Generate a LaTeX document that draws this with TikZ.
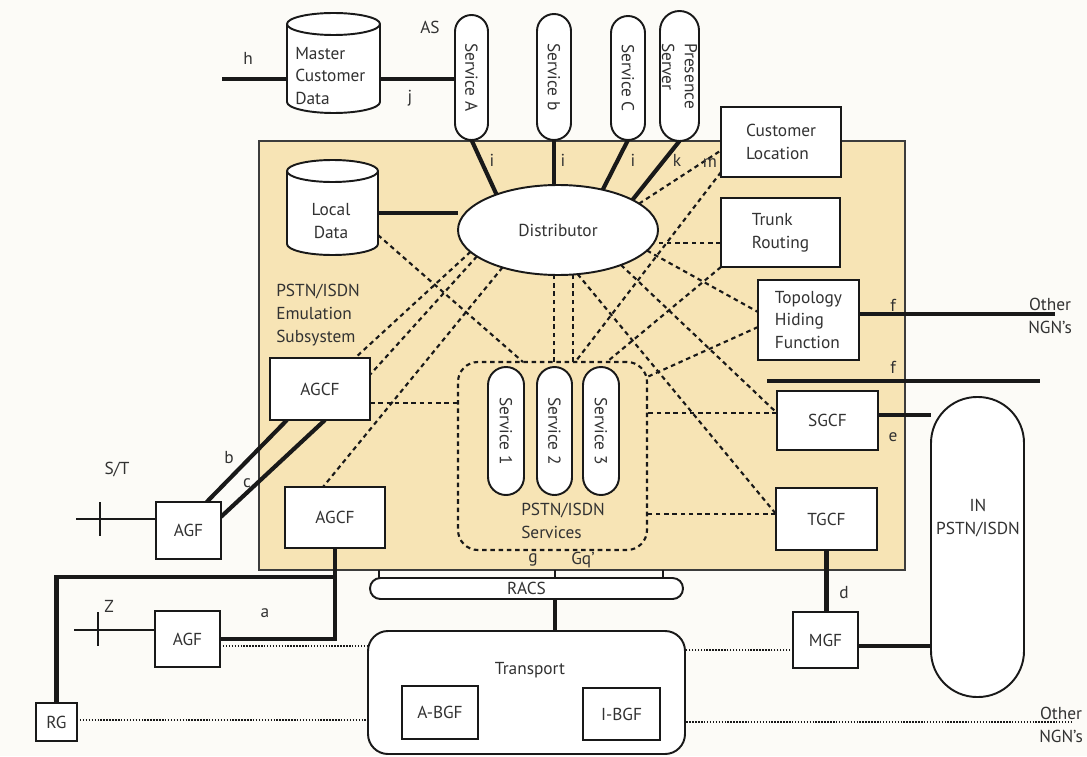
\documentclass[tikz,border=0pt]{standalone}
\usepackage{fontspec}
\setmainfont{PT Sans}
\usetikzlibrary{shapes.geometric,calc}
\definecolor{beige}{RGB}{247,228,181}
\definecolor{paper}{RGB}{252,251,247}
\definecolor{ink}{RGB}{25,25,25}
\definecolor{txt}{RGB}{50,50,50}
\pgfdeclarelayer{back}
\pgfdeclarelayer{lines}
\pgfsetlayers{back,lines,main}
\tikzset{
 box/.style={draw=ink, fill=white, line width=1.45pt, inner sep=0pt, outer sep=0pt, align=center, text=txt},
 thk/.style={draw=ink, line width=3.1pt},
 med/.style={draw=ink, line width=2.2pt},
 dsh/.style={draw=ink, line width=1.6pt, dash pattern=on 3.4pt off 2.8pt},
 dot/.style={draw=ink, line width=1.2pt, dash pattern=on 1.1pt off 1.1pt},
 lbl/.style={inner sep=0pt, text=txt, align=left},
 cylb/.style={draw=ink, fill=white, line width=1.45pt},
}
\newcommand\bx[7][]{\node[box,#1,minimum width={(#5-#3)*0.75pt},minimum height={(#6-#4)*0.75pt}] (#2) at ({(#3+#5)/2},{(#4+#6)/2}) {#7};}
\newcommand\vpill[7][]{\node[box,#1,rotate=-90,minimum width={(#6-#4)*0.75pt},minimum height={(#5-#3)*0.75pt},rounded corners={(#5-#3)*0.375pt}] (#2) at ({(#3+#5)/2},{(#4+#6)/2}) {#7};}
\newcommand\cyl[5]{%
 \node[inner sep=0pt,outer sep=0pt,minimum width={(#4-#2)*0.75pt},minimum height={(#5-#3)*0.75pt}] (#1) at ({(#2+#4)/2},{(#3+#5)/2}) {};
 \filldraw[cylb] (#2,{#3+11}) -- (#2,{#5-11}) arc[start angle=180,end angle=360,x radius={(#4-#2)*0.375pt},y radius=8.25pt] -- (#4,{#3+11}) arc[start angle=0,end angle=180,x radius={(#4-#2)*0.375pt},y radius=8.25pt] -- cycle;
 \draw[cylb,fill=none] (#2,{#3+11}) arc[start angle=180,end angle=360,x radius={(#4-#2)*0.375pt},y radius=8.25pt];
}
\begin{document}
\begin{tikzpicture}[x=0.75pt,y=-0.75pt,font=\fontsize{13}{17}\selectfont]
\useasboundingbox (0,0) rectangle (1087,756);
\begin{pgfonlayer}{back}
\fill[paper] (0,0) rectangle (1087,756);
\bx[fill=beige,draw=ink!85,line width=1.1pt]{pes}{259}{141}{905}{570}{}
\end{pgfonlayer}

% ---------- nodes ----------
\cyl{mcd}{287}{13}{380}{113}
\node[lbl,anchor=west] (mcdt) at (295,76) {Master\\Customer\\Data};
\cyl{ld}{287}{160}{378}{255}
\node[lbl,align=center] (ldt) at (331,221) {Local\\Data};
\vpill{sA}{455}{15}{488}{140}{Service A}
\vpill{sB}{537}{14}{571}{140}{Service b}
\vpill{sC}{611}{16}{645}{140}{Service C}
\vpill[align=left]{pres}{660}{11}{699}{141}{Presence\\Server}
\node[box,ellipse,minimum width=150pt,minimum height=67.5pt] (dist) at (558,230) {Distributor};
\bx[align=left]{cl}{721}{107}{841}{177}{Customer\\Location}
\bx[align=left]{tr}{721}{198}{840}{267}{Trunk\\Routing}
\bx[align=left]{thf}{758}{280}{859}{360}{Topology\\Hiding\\Function}
\bx{sgcf}{777}{391}{878}{450}{SGCF}
\bx{tgcf}{776}{488}{877}{550}{TGCF}
\bx{mgf}{793}{612}{858}{668}{MGF}
\bx[rounded corners=34.5pt]{inpill}{931}{397}{1024}{697}{}
\node[lbl,align=center] (int) at (978,518) {IN\\PSTN/ISDN};
\bx{agcf1}{270}{358}{370}{420}{AGCF}
\bx{agcf2}{285}{487}{385}{548}{AGCF}
\bx{agf1}{156}{502}{221}{559}{AGF}
\bx{agf2}{155}{611}{220}{667}{AGF}
\bx{rg}{36}{703}{77}{741}{RG}
\bx[fill=none,dsh,rounded corners=15pt]{svcbox}{458}{362}{647}{550}{}
\vpill{s1}{488}{367}{524}{495}{Service 1}
\vpill{s2}{537}{367}{572}{495}{Service 2}
\vpill{s3}{583}{367}{619}{495}{Service 3}
\node[lbl,anchor=west] (svct) at (521,521) {PSTN/ISDN\\Services};
\bx[rounded corners=7.8pt]{racs}{370}{578}{683}{599}{RACS}
\bx[rounded corners=15pt]{transport}{368}{631}{685}{754}{}
\node[lbl] (trt) at (530,670) {Transport};
\bx{abgf}{402}{686}{478}{739}{A-BGF}
\bx{ibgf}{583}{688}{660}{740}{I-BGF}

% ---------- labels ----------
\node[lbl] (lh) at (248,58) {h};
\node[lbl] (lj) at (410,98) {j};
\node[lbl] (las) at (430,27) {AS};
\node[lbl] (li1) at (492,160) {i};
\node[lbl] (li2) at (563,160) {i};
\node[lbl] (li3) at (633,160) {i};
\node[lbl] (lk) at (677,160) {k};
\node[lbl] (lm) at (710,163) {m};
\node[lbl,anchor=west] (pesl) at (276,315) {PSTN/ISDN\\Emulation\\Subsystem};
\node[lbl] (lf1) at (893,305) {f};
\node[lbl] (lf2) at (893,367) {f};
\node[lbl] (le) at (893,437) {e};
\node[lbl] (ld2) at (844,593) {d};
\node[lbl,align=center] (ngnt1) at (1050,316) {Other\\NGN\textquoteright s};
\node[lbl,align=center] (ngnt2) at (1061,725) {Other\\NGN\textquoteright s};
\node[lbl] (lst) at (117,470) {S/T};
\node[lbl] (lz) at (109,606) {Z};
\node[lbl] (lb) at (229,458) {b};
\node[lbl] (lc) at (247,483) {c};
\node[lbl] (la) at (265,613) {a};
\node[lbl] (lg) at (533,560) {g};
\node[lbl] (lgq) at (583,560) {Gq\textquoteright};

% ---------- connectors ----------
\begin{pgfonlayer}{lines}
% thick
\coordinate (hend) at (222,79);
\draw[thk] (hend) -- (hend -| mcd.west);
\draw[thk] (hend -| mcd.east) -- (hend -| sA.south);
\draw[thk] (sA.east) -- (dist.150);
\draw[thk] (sB.east) -- (sB.east |- dist.north);
\draw[thk] (sC.east) -- (dist.42);
\draw[thk] (pres.east) -- (dist.22);
\draw[thk] ([yshift=-4pt]ld.east) -- ([yshift=-4pt]ld.east -| dist.west);
\coordinate (ngn1) at (1055,314);
\draw[thk] (thf.east |- ngn1) -- (ngn1);
\coordinate (f2a) at (767,381);
\coordinate (f2b) at (1040,381);
\draw[thk] (f2a) -- (f2b);
\draw[thk] ([yshift=4pt]sgcf.east) -- ([yshift=4pt]sgcf.east -| inpill.west);
\draw[thk] (tgcf.south) -- (tgcf.south |- mgf.north);
\draw[thk] ([yshift=-4.5pt]mgf.east) -- ([yshift=-4.5pt]mgf.east -| inpill.west);
\draw[thk] ($(agf1.north west)!0.78!(agf1.north east)$) -- ($(agcf1.south west)!0.17!(agcf1.south east)$);
\draw[thk] ($(agf1.north east)!0.26!(agf1.south east)$) -- ($(agcf1.south west)!0.55!(agcf1.south east)$);
\coordinate (st) at (76,519);
\draw[med] (st) -- (st -| agf1.west);
\draw[med] (100,502) -- (100,536);
\coordinate (zst) at (74,630);
\draw[med] (zst) -- (zst -| agf2.west);
\draw[med] (98,612) -- (98,646);
\draw[thk] (agf2.east) -| (agcf2.south);
\draw[thk] (rg.north) |- ($(agcf2.south)+(0,29)$);
\draw[med] ($(racs.north west)+(9,0)$) -- ++(0,-8);
\draw[med] ($(racs.north west)+(185,0)$) -- ++(0,-8);
\draw[med] ($(racs.north west)+(293,0)$) -- ++(0,-8);
\coordinate (rx) at ($(racs.south west)+(185,0)$);
\draw[thk] (rx) -- (rx |- transport.north);
% dotted
\draw[dot] ([yshift=-5.25pt]agf2.east) -- ([yshift=-5.25pt,xshift=6pt]agf2.east -| transport.west);
\draw[dot] ([yshift=1.5pt]rg.east) -- ([yshift=1.5pt]rg.east -| transport.west);
\draw[dot] ([yshift=-7.5pt]mgf.west) -- ([yshift=-7.5pt,xshift=-6pt]mgf.west -| transport.east);
\coordinate (ngn2) at (1073,722);
\draw[dot] (ibgf.east |- ngn2) -- (ngn2);
% dashed
\draw[dsh] (dist.18) -- ($(cl.north west)!0.62!(cl.south west)$);
\draw[dsh] ($(cl.north west)!0.93!(cl.south west)$) -- ($(svcbox.north west)!0.62!(svcbox.north east)$);
\draw[dsh] ([yshift=-7.9pt]tr.west) -- ([yshift=-7.9pt]tr.west -| dist.east);
\draw[dsh] (tr.south west) -- ($(svcbox.north west)!0.787!(svcbox.north east)$);
\draw[dsh] (dist.-13) -- ([yshift=6pt]thf.west);
\draw[dsh] ([yshift=-5.25pt]thf.west) -- ($(svcbox.north east)!0.08!(svcbox.south east)$);
\draw[dsh] (dist.-29) -- ([yshift=5.6pt]sgcf.west);
\draw[dsh] ([yshift=5.6pt]sgcf.west) -- ([yshift=5.6pt]sgcf.west -| svcbox.east);
\draw[dsh] (dist.-66) -- ([yshift=3.75pt]tgcf.west);
\draw[dsh] ([yshift=3.75pt]tgcf.west) -- ([yshift=3.75pt]tgcf.west -| svcbox.east);
\coordinate (v1) at ($(svcbox.north west)!0.51!(svcbox.north east)$);
\coordinate (v2) at ($(svcbox.north west)!0.608!(svcbox.north east)$);
\draw[dsh] (v1) -- (v1 |- dist.south);
\draw[dsh] (v2) -- (v2 |- dist.south);
\draw[dsh] ($(ld.north east)!0.79!(ld.south east)$) -- ($(svcbox.north west)!0.344!(svcbox.north east)$);
\draw[dsh] (dist.194) -- ($(agcf1.north west)!0.85!(agcf1.north east)$);
\draw[dsh] (dist.198) -- ($(agcf1.north east)!0.27!(agcf1.south east)$);
\draw[dsh] (dist.214) -- ($(agcf2.north west)!0.38!(agcf2.north east)$);
\draw[dsh] ([yshift=-10.5pt]agcf1.east) -- ([yshift=-10.5pt]agcf1.east -| svcbox.west);
\end{pgfonlayer}
\end{tikzpicture}
\end{document}
